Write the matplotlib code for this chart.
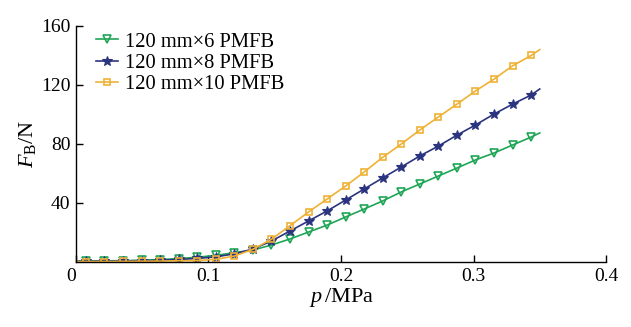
import numpy as np
import matplotlib
matplotlib.use("Agg")
import matplotlib.pyplot as plt

plt.rcParams['font.family'] = ['Liberation Serif', 'DejaVu Serif']
plt.rcParams['mathtext.fontset'] = 'custom'
plt.rcParams['mathtext.rm'] = 'Liberation Serif'
plt.rcParams['mathtext.it'] = 'Liberation Serif:italic'

# 压力 (MPa)：起点、标记点、终点
p = [0.0, 0.0075, 0.0215, 0.0355, 0.0495, 0.0635, 0.0775, 0.0915, 0.1055,
     0.1195, 0.1335, 0.1475, 0.1615, 0.1755, 0.1895, 0.2035, 0.2175, 0.2315,
     0.2455, 0.2595, 0.2735, 0.2875, 0.3015, 0.3155, 0.3295, 0.3435, 0.35]

# 推力 F_B (N)
f_6 = [0.7, 0.7, 0.8, 0.9, 1.2, 1.6, 2.3, 3.2, 4.5, 6.3, 8.1, 11.5, 15.6,
       20.3, 25.0, 30.5, 35.9, 41.4, 47.5, 52.9, 58.3, 63.7, 69.2, 73.9,
       79.3, 84.7, 87.5]
f_8 = [0.5, 0.5, 0.6, 0.7, 0.9, 1.2, 1.7, 2.4, 3.5, 5.5, 8.8, 14.2, 21.0,
       27.8, 34.6, 42.0, 49.5, 57.0, 64.4, 71.9, 78.6, 86.0, 92.9, 100.3,
       107.0, 113.2, 117.3]
f_10 = [0.3, 0.3, 0.3, 0.4, 0.5, 0.6, 0.8, 1.0, 1.8, 4.0, 8.6, 15.4, 24.6,
        33.9, 42.7, 51.5, 61.0, 71.0, 80.0, 89.5, 98.3, 107.0, 116.0, 124.0,
        133.0, 140.0, 144.0]

labels = ['120 mm×6 PMFB', '120 mm×8 PMFB', '120 mm×10 PMFB']
colors = ['#1ea556', '#2b347f', '#efb136']

fig = plt.figure(figsize=(6.31, 3.27), dpi=100)
ax = fig.add_axes([0.1204, 0.1988, 0.84, 0.7217])

marks = list(range(1, len(p) - 1))
ax.plot(p, f_6, color=colors[0], lw=1.2, marker='v', ms=5.5, mfc='none',
        mec=colors[0], mew=1.2, markevery=marks, label=labels[0])
ax.plot(p, f_8, color=colors[1], lw=1.2, marker='*', ms=7.5,
        mec=colors[1], mew=0.8, markevery=marks, label=labels[1])
ax.plot(p, f_10, color=colors[2], lw=1.2, marker='s', ms=4.5, mfc='none',
        mec=colors[2], mew=1.2, markevery=marks, label=labels[2])

ax.set_xlim(0, 0.4)
ax.set_ylim(0, 160)
ax.set_xticks([0, 0.1, 0.2, 0.3, 0.4])
ax.set_xticklabels(['0', '0.1', '0.2', '0.3', '0.4'])
ax.set_yticks([40, 80, 120, 160])
ax.tick_params(direction='in', length=5, width=1, labelsize=14, pad=4)
ax.get_xticklabels()[0].set_horizontalalignment('right')

for s in ['top', 'right']:
    ax.spines[s].set_visible(False)
for s in ['left', 'bottom']:
    ax.spines[s].set_linewidth(1.0)

ax.set_xlabel('$p\\,$/MPa', fontsize=16, labelpad=1)
ax.set_ylabel('$F_\\mathrm{B}$/N', fontsize=16, labelpad=2)

ax.legend(loc='upper left', bbox_to_anchor=(0.01, 1.035), frameon=False,
          fontsize=14.8, handlelength=1.1, handletextpad=0.35,
          labelspacing=0.1, borderaxespad=0.3)

fig.savefig('out.png', dpi=100)
